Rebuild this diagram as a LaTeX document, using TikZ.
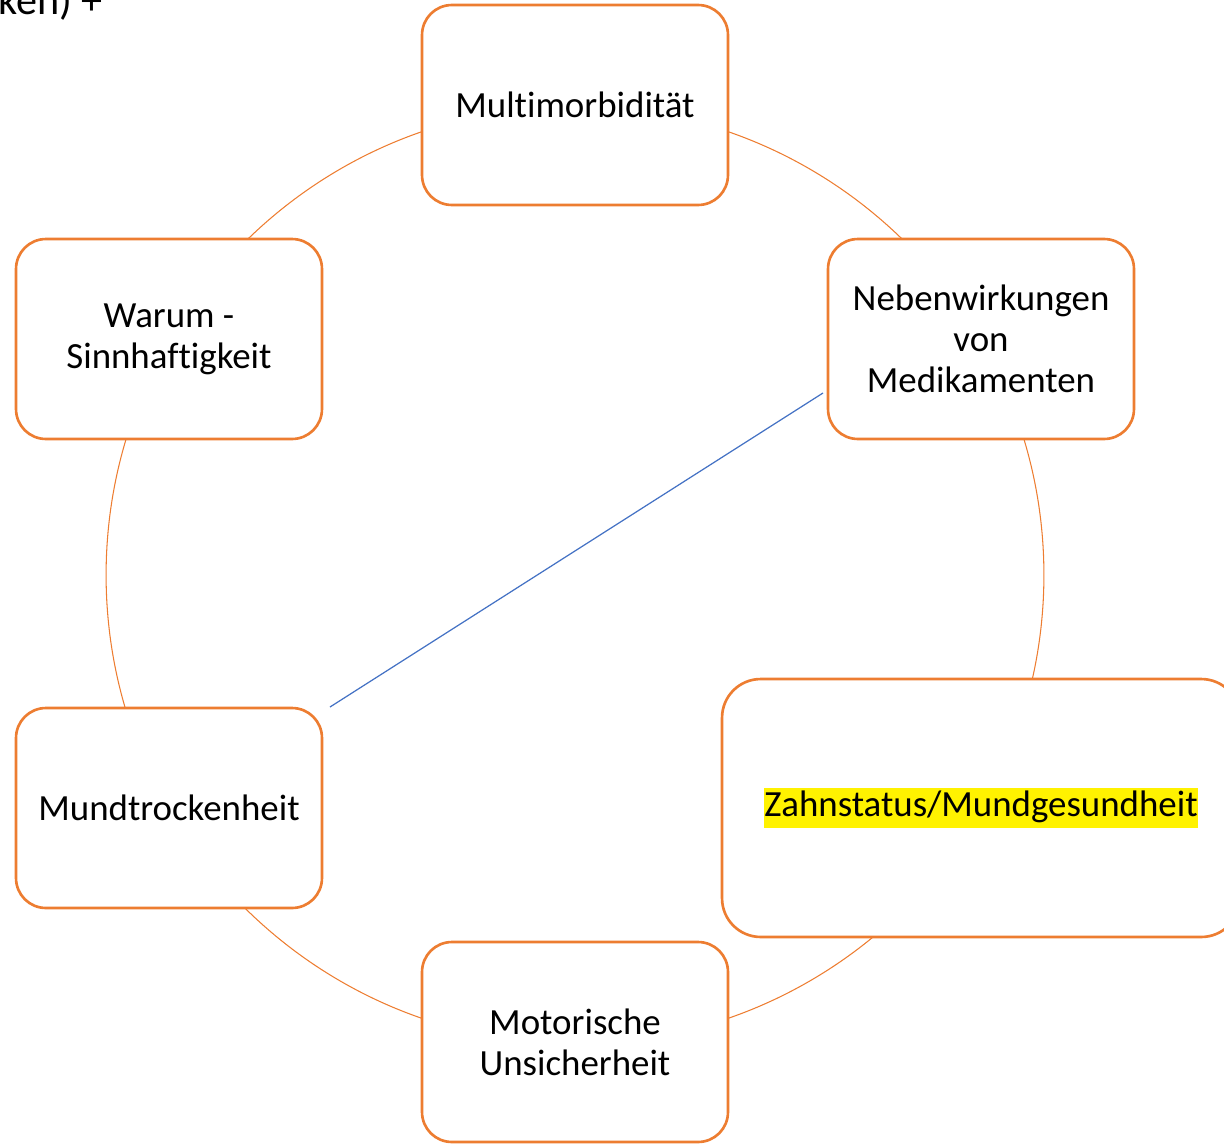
\documentclass[tikz,border=0pt]{standalone}
\usepackage{fontspec}
\setmainfont{Carlito}[Ligatures=NoCommon]
\usetikzlibrary{positioning}
\definecolor{cycleorange}{HTML}{ED7D31}
\definecolor{linkblue}{HTML}{4472C4}

\begin{document}
\begin{tikzpicture}[
        x=0.02cm, y=-0.02cm,
        every node/.style={font=\fontsize{21}{23.2}\selectfont},
        cyclebox/.style={draw=cycleorange, line width=1.5pt, fill=white,
            rounded corners=17pt, minimum width=6.12cm, minimum height=4cm,
            align=center, inner sep=0pt},
        bigbox/.style={cyclebox, rounded corners=22pt,
            minimum width=10.36cm, minimum height=5.16cm}
    ]

    \useasboundingbox (0,0) rectangle (1224,1143);
    \clip (0,0) rectangle (1224,1143);

    % Draw cycle behind the boxes
    \coordinate (centre) at (575,575);
    \draw[cycleorange, line width=0.6pt] (centre) circle [radius=9.38cm];

    % Draw boxes
    \node[cyclebox] (multi) at (575,105) {Multimorbidität};
    \node[cyclebox] (neben) at (981,339) {Nebenwirkungen\\von\\Medikamenten};
    \node[bigbox] (zahn) at (981,808)
        {\setlength{\fboxsep}{0pt}\colorbox{yellow}{\strut Zahnstatus/Mundgesundheit}};
    \node[cyclebox] (motor) at (575,1042) {Motorische\\Unsicherheit};
    \node[cyclebox] (mund) at (169,808) {Mundtrockenheit};
    \node[cyclebox] (warum) at (169,339) {\raisebox{-1.5pt}{Warum -}\\\raisebox{-1.5pt}{Sinnhaftigkeit}};

    % Cut-off text above
    \node[anchor=base east, font=\fontsize{24}{28}\selectfont] (cut) at (109,14) {ken) +};

    % Link line
    \coordinate (linkstart) at (330,707);
    \coordinate (linkend) at (823,393);
    \draw[linkblue, line width=0.7pt] (linkstart) -- (linkend);

\end{tikzpicture}
\end{document}
